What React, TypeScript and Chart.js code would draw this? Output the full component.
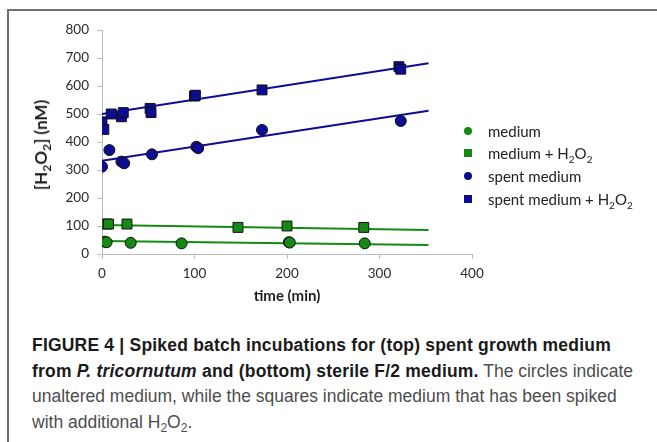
import React, { useEffect, useRef } from "react";
import { Chart, registerables } from "chart.js";

Chart.register(...registerables);

// Measured H2O2 concentrations (nM) against incubation time (min)
const mediumTime = [3, 5, 31, 86, 202, 203, 284];
const mediumValue = [44, 42, 40, 38, 42, 41, 38];
const mediumSpikedTime = [5, 7, 27, 147, 200, 283];
const mediumSpikedValue = [107, 107, 107, 95, 100, 95];
const spentTime = [0, 8, 21, 24, 54, 102, 104, 173, 323];
const spentValue = [312, 371, 330, 324, 356, 383, 378, 443, 475];
const spentSpikedTime = [0, 2, 10, 21, 23, 52, 53, 100, 101, 173, 321, 323];
const spentSpikedValue = [472, 445, 500, 490, 505, 520, 505, 564, 567, 586, 669, 660];

// Linear fits, given as the fitted value at the start and end of the fit range
const trendTime = [0, 353];
const mediumTrend = [46, 32];
const mediumSpikedTrend = [104, 86];
const spentTrend = [333, 512];
const spentSpikedTrend = [500, 681];

const seriesLabels = ["medium", "medium + H₂O₂", "spent medium", "spent medium + H₂O₂"];
const xTicks = [0, 100, 200, 300, 400];
const yTicks = [0, 100, 200, 300, 400, 500, 600, 700, 800];

const GREEN = "#148a14";
const BLUE = "#0c0c96";
const AXIS = "#bdbdbd";
const TICK_TEXT = "#2a2a2a";
const FONT = "Lato, 'Open Sans', sans-serif";

const toPoints = (xs: number[], ys: number[]) => xs.map((x, i) => ({ x, y: ys[i] }));

function SubText({ text, subSize, drop }: { text: string; subSize: number; drop: number }) {
  // renders "H₂O₂" style text with real lowered subscripts
  const parts = text.split(/(₂)/);
  return (
    <>
      {parts.map((p, i) =>
        p === "₂" ? (
          <span key={i} style={{ fontSize: subSize, position: "relative", top: drop }}>
            2
          </span>
        ) : (
          <span key={i}>{p}</span>
        )
      )}
    </>
  );
}

export default function App() {
  const canvasRef = useRef<HTMLCanvasElement | null>(null);

  useEffect(() => {
    const canvas = canvasRef.current;
    if (!canvas) return;

    const markerBase = {
      type: "scatter" as const,
      borderColor: "#101010",
      borderWidth: 1,
      showLine: false,
      order: 0,
    };
    const trendBase = {
      type: "line" as const,
      borderWidth: 2,
      pointRadius: 0,
      fill: false,
      order: 1,
    };

    const chart = new Chart(canvas, {
      type: "scatter",
      data: {
        datasets: [
          {
            ...markerBase,
            label: seriesLabels[0],
            data: toPoints(mediumTime, mediumValue),
            backgroundColor: GREEN,
            pointStyle: "circle",
            pointRadius: 5.5,
          },
          {
            ...markerBase,
            label: seriesLabels[1],
            data: toPoints(mediumSpikedTime, mediumSpikedValue),
            backgroundColor: GREEN,
            pointStyle: "rect",
            pointRadius: 7,
          },
          {
            ...markerBase,
            label: seriesLabels[2],
            data: toPoints(spentTime, spentValue),
            backgroundColor: BLUE,
            pointStyle: "circle",
            pointRadius: 5.5,
          },
          {
            ...markerBase,
            label: seriesLabels[3],
            data: toPoints(spentSpikedTime, spentSpikedValue),
            backgroundColor: BLUE,
            pointStyle: "rect",
            pointRadius: 7,
          },
          { ...trendBase, label: "fit medium", data: toPoints(trendTime, mediumTrend), borderColor: GREEN },
          { ...trendBase, label: "fit medium spiked", data: toPoints(trendTime, mediumSpikedTrend), borderColor: GREEN },
          { ...trendBase, label: "fit spent", data: toPoints(trendTime, spentTrend), borderColor: BLUE },
          { ...trendBase, label: "fit spent spiked", data: toPoints(trendTime, spentSpikedTrend), borderColor: BLUE },
        ] as any,
      },
      options: {
        animation: false,
        responsive: false,
        events: [],
        layout: { padding: { left: 33, top: 30, right: 185, bottom: 15 } },
        plugins: {
          legend: { display: false },
          tooltip: { enabled: false },
        },
        scales: {
          x: {
            type: "linear",
            min: xTicks[0],
            max: xTicks[xTicks.length - 1],
            afterBuildTicks: (s: any) => {
              s.ticks = xTicks.map((v) => ({ value: v }));
            },
            afterFit: (s: any) => {
              s.height = 51;
            },
            ticks: { color: TICK_TEXT, padding: 7, font: { family: FONT, size: 13.5 } },
            grid: { drawOnChartArea: false, tickLength: 5, color: AXIS },
            border: { color: AXIS, width: 1 },
            title: {
              display: true,
              text: "time (min)",
              color: "#1e1e1e",
              padding: 0,
              font: { family: FONT, size: 15, weight: "bold" },
            },
          },
          y: {
            type: "linear",
            min: yTicks[0],
            max: yTicks[yTicks.length - 1],
            afterBuildTicks: (s: any) => {
              s.ticks = yTicks.map((v) => ({ value: v }));
            },
            afterFit: (s: any) => {
              s.width = 69;
            },
            ticks: { color: TICK_TEXT, padding: 8, font: { family: FONT, size: 13.5 } },
            grid: { drawOnChartArea: false, tickLength: 5, color: AXIS },
            border: { color: AXIS, width: 1 },
          },
        },
      } as any,
    });

    return () => chart.destroy();
  }, []);

  const legendRows = [
    { label: seriesLabels[0], color: GREEN, round: true, y: 131 },
    { label: seriesLabels[1], color: GREEN, round: false, y: 153 },
    { label: seriesLabels[2], color: BLUE, round: true, y: 176 },
    { label: seriesLabels[3], color: BLUE, round: false, y: 199 },
  ];

  const bold = { fontWeight: "bold" as const, color: "#1a1a1a", letterSpacing: "0.2px" };

  return (
    <div
      style={{
        position: "absolute",
        left: 0,
        top: 0,
        width: 657,
        height: 442,
        background: "#fff",
        overflow: "hidden",
      }}
    >
      <div
        style={{
          position: "absolute",
          left: 7,
          top: 9,
          width: 660,
          height: 450,
          borderTop: "2px solid #707070",
          borderLeft: "2px solid #707070",
        }}
      />
      <canvas
        ref={canvasRef}
        width={657}
        height={320}
        style={{ position: "absolute", left: 0, top: 0, width: 657, height: 320 }}
      />
      {/* y-axis title, rotated, centred on the plot area */}
      <div
        style={{
          position: "absolute",
          left: 42,
          top: 145,
          transform: "translate(-50%, -50%) rotate(-90deg)",
          fontFamily: FONT,
          fontSize: 17,
          fontWeight: "bold",
          color: "#1e1e1e",
          whiteSpace: "nowrap",
          lineHeight: "20px",
        }}
      >
        [<SubText text="H₂O₂" subSize={12} drop={4} />] (nM)
      </div>
      {legendRows.map((r) => (
        <div
          key={r.label}
          style={{
            position: "absolute",
            left: 464,
            top: r.y - 11,
            height: 22,
            display: "flex",
            alignItems: "center",
            fontFamily: FONT,
            fontSize: 15,
            color: "#222",
            whiteSpace: "nowrap",
          }}
        >
          <span
            style={{
              width: 8,
              height: 8,
              background: r.color,
              borderRadius: r.round ? "50%" : 0,
              display: "inline-block",
              marginRight: 16,
            }}
          />
          <span>
            <SubText text={r.label} subSize={10} drop={4} />
          </span>
        </div>
      ))}
      <div
        style={{
          position: "absolute",
          left: 32,
          top: 333,
          width: 640,
          fontFamily: "'Liberation Sans', Arial, sans-serif",
          fontSize: 17.5,
          lineHeight: "25.5px",
          color: "#4d4d4d",
          whiteSpace: "nowrap",
        }}
      >
        <div style={bold}>FIGURE 4 | Spiked batch incubations for (top) spent growth medium</div>
        <div>
          <span style={bold}>
            from <i>P. tricornutum</i> and (bottom) sterile F/2 medium.
          </span>{" "}
          The circles indicate
        </div>
        <div>unaltered medium, while the squares indicate medium that has been spiked</div>
        <div>
          with additional H<sub style={{ fontSize: 12, verticalAlign: "-4px" }}>2</sub>O
          <sub style={{ fontSize: 12, verticalAlign: "-4px" }}>2</sub>.
        </div>
      </div>
    </div>
  );
}
